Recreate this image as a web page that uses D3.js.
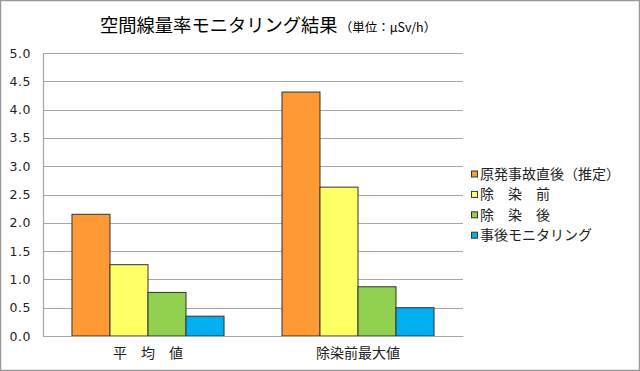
<!DOCTYPE html>
<html>
<head>
<meta charset="utf-8">
<script src="https://cdn.jsdelivr.net/npm/d3@7"></script>
<style>
  body { margin: 0; background: #fff; }
  svg { display: block; }
</style>
</head>
<body>
<div id="chart"></div>
<script>
// categories and series
const categories = ['平　均　値', '除染前最大値'];
const seriesNames = ['原発事故直後（推定）', '除　染　前', '除　染　後', '事後モニタリング'];
const seriesColors = ['#ff9933', '#ffff66', '#92d050', '#00b0f0'];
// values per series, one per category
const accident = [2.15, 4.31];
const beforeDecon = [1.26, 2.63];
const afterDecon = [0.77, 0.87];
const monitoring = [0.35, 0.50];
const yTicks = [0, 0.5, 1, 1.5, 2, 2.5, 3, 3.5, 4, 4.5, 5];

const seriesValues = [accident, beforeDecon, afterDecon, monitoring];

const config = {
  width: 640,
  height: 371,
  margin: { top: 53, right: 177, bottom: 35, left: 43 }
};

const width = config.width - config.margin.left - config.margin.right;
const height = config.height - config.margin.top - config.margin.bottom;

const svg = d3.select('#chart').append('svg')
  .attr('width', config.width)
  .attr('height', config.height);

// outer frame
svg.append('rect')
  .attr('x', 0.5).attr('y', 0.5)
  .attr('width', config.width - 1).attr('height', config.height - 1)
  .attr('fill', '#fff')
  .attr('stroke', '#999')
  .attr('stroke-width', 1.5);

// title
const title = svg.append('text')
  .attr('x', 100)
  .attr('y', 32)
  .attr('font-family', '"Noto Sans CJK JP", sans-serif')
  .attr('fill', '#000');
title.append('tspan').attr('font-size', 18.3).text('空間線量率モニタリング結果');
title.append('tspan').attr('font-size', 12.5).attr('dx', 2).text('（単位：μSv/h）');

const chart = svg.append('g')
  .attr('transform', `translate(${config.margin.left}, ${config.margin.top})`);

// scales
const x0 = d3.scaleBand().domain(categories).range([0, width]);
const gap = x0.bandwidth() * 0.138;
const x1 = d3.scaleBand().domain(d3.range(seriesNames.length))
  .range([gap, x0.bandwidth() - gap]);
const y = d3.scaleLinear().domain([0, 5]).range([height, 0]);

// grid
chart.append('g')
  .selectAll('line')
  .data(yTicks)
  .join('line')
  .attr('x1', 0).attr('x2', width)
  .attr('y1', d => Math.round(y(d)) + 0.5).attr('y2', d => Math.round(y(d)) + 0.5)
  .attr('stroke', '#a6a6a6')
  .attr('stroke-width', 1.2);

// y axis
const yAxis = d3.axisLeft(y).tickValues(yTicks).tickSize(0).tickPadding(12)
  .tickFormat(d3.format('.1f'));
const yAxisG = chart.append('g').call(yAxis);
yAxisG.select('.domain').attr('stroke', '#a6a6a6').attr('stroke-width', 1.2);
yAxisG.selectAll('text')
  .attr('font-family', '"DejaVu Sans", sans-serif')
  .attr('font-size', 12.5)
  .attr('letter-spacing', 0.5)
  .attr('fill', '#222');

// bars
const groups = chart.selectAll('.group')
  .data(categories)
  .join('g')
  .attr('class', 'group')
  .attr('transform', d => `translate(${x0(d)}, 0)`);

groups.selectAll('rect')
  .data((d, ci) => seriesValues.map((vals, si) => ({ si, v: vals[ci] })))
  .join('rect')
  .attr('x', d => x1(d.si))
  .attr('width', x1.bandwidth())
  .attr('y', d => y(d.v))
  .attr('height', d => height - y(d.v))
  .attr('fill', d => seriesColors[d.si])
  .attr('stroke', '#333')
  .attr('stroke-width', 1);

// x axis
const xAxis = d3.axisBottom(x0).tickSize(0).tickPadding(12);
const xAxisG = chart.append('g')
  .attr('transform', `translate(0, ${height})`)
  .call(xAxis);
xAxisG.select('.domain').attr('stroke', '#a6a6a6').attr('stroke-width', 1.2);
xAxisG.selectAll('text')
  .attr('font-family', '"Noto Sans CJK JP", sans-serif')
  .attr('font-size', 14)
  .attr('fill', '#222');

// legend
const legend = svg.append('g')
  .attr('transform', 'translate(471, 174)');
const items = legend.selectAll('g')
  .data(seriesNames)
  .join('g')
  .attr('transform', (d, i) => `translate(0, ${i * 20.4})`);
items.append('rect')
  .attr('x', 0.5).attr('y', -3)
  .attr('width', 6).attr('height', 6)
  .attr('fill', (d, i) => seriesColors[i])
  .attr('stroke', '#333')
  .attr('stroke-width', 1);
items.append('text')
  .attr('x', 9)
  .attr('y', 0)
  .attr('dy', '0.35em')
  .attr('font-family', '"Noto Sans CJK JP", sans-serif')
  .attr('font-size', 14)
  .attr('fill', '#222')
  .text(d => d);
</script>
</body>
</html>
